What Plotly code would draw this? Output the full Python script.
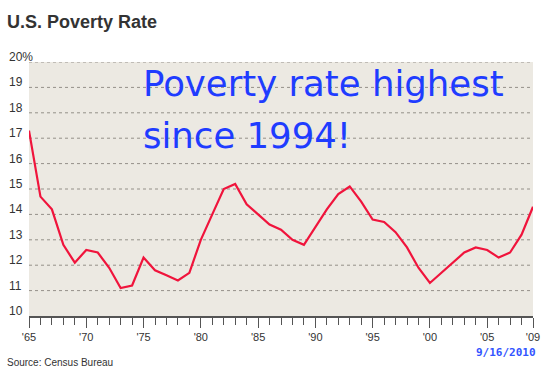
import plotly.graph_objects as go

years = list(range(1965, 2010))
poverty_rate = [17.3, 14.7, 14.2, 12.8, 12.1, 12.6, 12.5, 11.9, 11.1, 11.2,
                12.3, 11.8, 11.6, 11.4, 11.7, 13.0, 14.0, 15.0, 15.2, 14.4,
                14.0, 13.6, 13.4, 13.0, 12.8, 13.5, 14.2, 14.8, 15.1, 14.5,
                13.8, 13.7, 13.3, 12.7, 11.9, 11.3, 11.7, 12.1, 12.5, 12.7,
                12.6, 12.3, 12.5, 13.2, 14.3]
x_tick_vals = [1965, 1970, 1975, 1980, 1985, 1990, 1995, 2000, 2005, 2009]
x_tick_text = ["'65", "'70", "'75", "'80", "'85", "'90", "'95", "'00", "'05", "'09"]
y_tick_vals = [10, 11, 12, 13, 14, 15, 16, 17, 18, 19, 20]
y_tick_text = ["10", "11", "12", "13", "14", "15", "16", "17", "18", "19", "20%"]

W, H = 553, 369
ML, MR, MT, MB = 29, 20, 62, 53
PW = W - ML - MR
PH = H - MT - MB

fig = go.Figure()
fig.add_trace(go.Scatter(x=years, y=poverty_rate, mode="lines",
                         line=dict(color="#f0143c", width=2.2),
                         hoverinfo="x+y", showlegend=False))

# gridlines (dotted)
for v in y_tick_vals[1:]:
    fig.add_shape(type="line", xref="paper", x0=0, x1=1, yref="y", y0=v, y1=v,
                  line=dict(color="#949089", width=1, dash="dot"), layer="below")

# y tick labels left aligned
for v, t in zip(y_tick_vals, y_tick_text):
    fig.add_annotation(x=(7 - ML) / PW, xref="paper", y=v, yref="y", text=t,
                       showarrow=False, xanchor="left", yanchor="middle", yshift=5,
                       font=dict(family="Liberation Sans, Arial", size=12, color="#333333"))

layout_annots = [
    dict(text="<b>U.S. Poverty Rate</b>", x=5, y=22, size=18, color="#333333",
         family="Liberation Sans, Arial", xanchor="left"),
    dict(text="Source: Census Bureau", x=5, y=362, size=10, color="#333333",
         family="Liberation Sans, Arial", xanchor="left"),
    dict(text="<b>9/16/2010</b>", x=538, y=352, size=11, color="#3355ff",
         family="DejaVu Sans Mono, Liberation Mono", xanchor="right"),
    dict(text="Poverty rate highest", x=141, y=84, size=35.5, color="#1f3cff",
         family="DejaVu Sans", xanchor="left"),
    dict(text="since 1994!", x=141, y=135, size=35.5, color="#1f3cff",
         family="DejaVu Sans", xanchor="left"),
]
for a in layout_annots:
    fig.add_annotation(x=(a["x"] - ML) / PW, xref="paper",
                       y=1 - (a["y"] - MT) / PH, yref="paper",
                       text=a["text"], showarrow=False, xanchor=a["xanchor"],
                       yanchor="middle",
                       font=dict(family=a["family"], size=a["size"], color=a["color"]))

fig.update_layout(
    width=W, height=H,
    margin=dict(l=ML, r=MR, t=MT, b=MB),
    paper_bgcolor="white",
    plot_bgcolor="#ece9e2",
    xaxis=dict(range=[1965, 2009], tickmode="array", tickvals=x_tick_vals,
               ticktext=x_tick_text, ticks="outside", ticklen=10, tickwidth=1,
               tickcolor="#555555", showgrid=False, zeroline=False,
               showline=True, linecolor="#555555", linewidth=2,
               tickfont=dict(family="Liberation Sans, Arial", size=11, color="#333333"),
               minor=dict(dtick=1, tick0=1965, ticks="outside", ticklen=7,
                          tickcolor="#555555", tickwidth=1, showgrid=False)),
    yaxis=dict(range=[10, 20], showticklabels=False, showgrid=False,
               zeroline=False, showline=False, ticks=""),
)

fig.write_html("out.html", config={"displayModeBar": False},
               post_script="document.body.style.margin='0';document.body.style.overflow='hidden';")
